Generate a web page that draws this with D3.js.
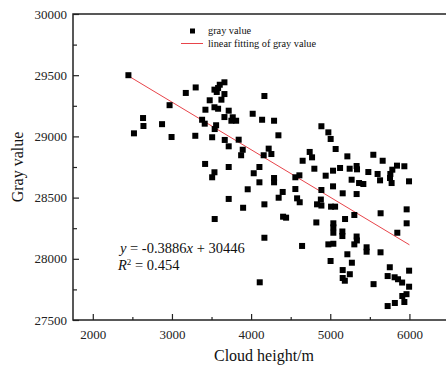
<!DOCTYPE html>
<html>
<head>
<meta charset="utf-8">
<script src="https://cdn.jsdelivr.net/npm/d3@7"></script>
<style>
  body { margin: 0; background: #fff; }
  text { font-family: "Liberation Serif", "Times New Roman", serif; }
</style>
</head>
<body>
<div id="chart"></div>
<script>
// Data
const cloudHeight = [
  2450, 3175, 3300, 2970, 2635, 2640, 2520, 2875, 2995, 3295,
  3663, 3604, 3583, 3537, 3566, 3663, 3625, 3477, 3423, 3537,
  3583, 3717, 3663, 3768, 3811, 3751, 3381, 3414, 3558, 3540,
  3508, 3667, 3717, 3843, 3894, 3874, 3419, 3537, 3508, 3717,
  4168, 4020, 4139, 4290, 4345, 4222, 4256, 4159, 4105, 4033,
  4105, 4290, 4290, 3957, 4399, 4651, 4740, 4770, 4799, 4610,
  4559, 4559, 4888, 4888, 4942, 4976, 5005, 5068, 5216, 5544,
  5662, 5843, 5936, 5784, 5759, 5755, 5775, 5995, 5598, 5629,
  5481, 5333, 5338, 5245, 5124, 5035, 5270, 5364, 5418, 5035,
  5157, 5333, 3717, 3899, 3540, 4168, 4348, 4581, 4614, 4404,
  4442, 4168, 4644, 4109, 4824, 4833, 4888, 4881, 5010, 5061,
  5187, 5304, 5636, 5965, 5965, 5847, 5039, 5039, 5039, 5153,
  5153, 5333, 5336, 5304, 4976, 5039, 5459, 5459, 5635, 5216,
  5273, 5004, 5157, 5247, 5157, 5184, 5752, 5996, 5725, 5813,
  5856, 5908, 5996, 5547, 5963, 5910, 5816, 5936, 5725
];
const grayValue = [
  29500, 29355, 29400, 29255, 29150, 29085, 29025, 29100, 28995, 29005,
  29442, 29422, 29395, 29382, 29363, 29346, 29300, 29295, 29218, 29238,
  29226, 29210, 29158, 29156, 29128, 29128, 29136, 29104, 29091, 29060,
  28993, 28971, 28919, 28973, 28891, 28846, 28775, 28707, 28666, 28750,
  29330, 29185, 29136, 29128, 29009, 28900, 28856, 28846, 28750, 28699,
  28625, 28660, 28625, 28568, 28546, 28801, 28873, 28829, 28736, 28682,
  28666, 28570, 29083, 28562, 28679, 29033, 28979, 28897, 28837, 28850,
  28801, 28761, 28756, 28728, 28693, 28660, 28619, 28633, 28693, 28641,
  28709, 28758, 28731, 28736, 28742, 28720, 28646, 28619, 28611, 28592,
  28535, 28529, 28489, 28417, 28325, 28445, 28499, 28494, 28462, 28344,
  28336, 28172, 28105, 27808, 28297, 28445, 28435, 28484, 28426, 28426,
  28325, 28358, 28372, 28404, 28290, 28213, 28290, 28257, 28213, 28223,
  28186, 28182, 28150, 28118, 28118, 28123, 28094, 28058, 28053, 28037,
  27968, 27982, 27908, 27874, 27843, 27821, 27931, 27903, 27859, 27849,
  27833, 27806, 27772, 27793, 27711, 27696, 27639, 27647, 27614
];
const xTicks = [2000, 3000, 4000, 5000, 6000];
const xMinorTicks = [2500, 3500, 4500, 5500];
const yTicks = [27500, 28000, 28500, 29000, 29500, 30000];
const yMinorTicks = [27750, 28250, 28750, 29250, 29750];
const fitSlope = -0.3886;
const fitIntercept = 30446;
const fitRange = [2450, 6000];
const legendLabels = ["gray value", "linear fitting of gray value"];
const xTitle = "Cloud height/m";
const yTitle = "Gray value";

// Plot constants
const MARGIN = { LEFT: 73, RIGHT: -3, TOP: 14, BOTTOM: 48 };
const WIDTH = 446 - MARGIN.LEFT - MARGIN.RIGHT;
const HEIGHT = 368 - MARGIN.TOP - MARGIN.BOTTOM;
const FIT_COLOR = "#e8444a";

const svg = d3.select("#chart")
  .append("svg")
  .attr("width", 446)
  .attr("height", 368);

const g = svg.append("g")
  .attr("transform", "translate(" + MARGIN.LEFT + "," + MARGIN.TOP + ")");

// Scales
const x = d3.scaleLinear().domain([1750, 6500]).range([0, WIDTH]);
const y = d3.scaleLinear().domain([27500, 30000]).range([HEIGHT, 0]);

// Axes (ticks point inward)
const xAxisGroup = g.append("g")
  .attr("transform", "translate(0," + HEIGHT + ")")
  .call(d3.axisBottom(x).tickValues(xTicks).tickSize(-6).tickPadding(10).tickFormat(d3.format("d")));
g.append("g")
  .attr("transform", "translate(0," + HEIGHT + ")")
  .call(d3.axisBottom(x).tickValues(xMinorTicks).tickSize(-3).tickFormat(""));

const yAxisGroup = g.append("g")
  .call(d3.axisLeft(y).tickValues(yTicks).tickSize(-6).tickPadding(6).tickFormat(d3.format("d")));
g.append("g")
  .call(d3.axisLeft(y).tickValues(yMinorTicks).tickSize(-4).tickFormat(""));

g.selectAll(".domain").remove();
g.selectAll(".tick line").attr("stroke", "#222").attr("stroke-width", 1.2);
g.selectAll(".tick text")
  .attr("fill", "#222")
  .style("font-size", "13px")
  .style("font-family", "\"Liberation Serif\", serif");

// Frame
g.append("rect")
  .attr("width", WIDTH)
  .attr("height", HEIGHT)
  .attr("fill", "none")
  .attr("stroke", "#222")
  .attr("stroke-width", 1.5);

// Fit line
const fitLine = d3.line()
  .x((d) => x(d))
  .y((d) => y(fitSlope * d + fitIntercept));

g.append("path")
  .datum(fitRange)
  .attr("fill", "none")
  .attr("stroke", FIT_COLOR)
  .attr("stroke-width", 1)
  .attr("d", fitLine);

// Points
const S = 6;
g.selectAll(".point")
  .data(cloudHeight)
  .enter().append("rect")
  .attr("class", "point")
  .attr("x", (d) => x(d) - S / 2)
  .attr("y", (d, i) => y(grayValue[i]) - S / 2)
  .attr("width", S)
  .attr("height", S)
  .attr("fill", "#000");

// Legend
const legend = svg.append("g").attr("transform", "translate(181,31)");
legend.append("rect")
  .attr("x", 9).attr("y", -2.5)
  .attr("width", 5).attr("height", 5)
  .attr("fill", "#000");
legend.append("line")
  .attr("x1", 0).attr("x2", 22)
  .attr("y1", 12.5).attr("y2", 12.5)
  .attr("stroke", FIT_COLOR)
  .attr("stroke-width", 1);
legend.selectAll(".leg")
  .data(legendLabels)
  .enter().append("text")
  .attr("class", "leg")
  .attr("x", 27)
  .attr("y", (d, i) => 2.5 + i * 13)
  .style("font-size", "10.3px")
  .attr("fill", "#111")
  .text((d) => d);

// Equation
const eq = svg.append("text")
  .attr("x", 120)
  .attr("y", 252.5)
  .style("font-size", "14.5px")
  .attr("fill", "#111");
eq.append("tspan").style("font-style", "italic").text("y");
eq.append("tspan").text(" = " + fitSlope);
eq.append("tspan").style("font-style", "italic").text("x");
eq.append("tspan").text(" + " + fitIntercept);

const r2 = svg.append("text")
  .attr("x", 118)
  .attr("y", 270)
  .style("font-size", "14.5px")
  .attr("fill", "#111");
r2.append("tspan").style("font-style", "italic").text("R");
r2.append("tspan").attr("dy", -5).style("font-size", "9px").text("2");
r2.append("tspan").attr("dy", 5).text(" = 0.454");

// Axis titles
svg.append("text")
  .attr("text-anchor", "middle")
  .attr("x", 264)
  .attr("y", 361)
  .style("font-size", "16px")
  .attr("fill", "#111")
  .text(xTitle);

svg.append("text")
  .attr("text-anchor", "middle")
  .attr("transform", "translate(23," + (MARGIN.TOP + HEIGHT / 2) + ")rotate(-90)")
  .style("font-size", "16px")
  .attr("fill", "#111")
  .text(yTitle);
</script>
</body>
</html>
